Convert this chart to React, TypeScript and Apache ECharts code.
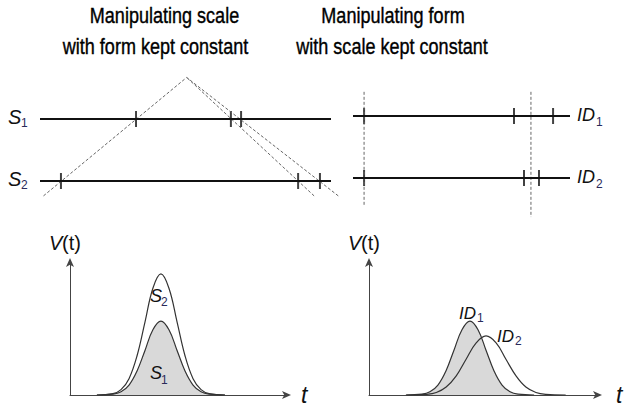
import React, { useEffect, useRef } from "react";
import * as echarts from "echarts";

// ---- top panels: positions of ticks on each scale (panel units 0..100) ----
const S1_TICKS = [33.0, 65.6, 69.1];
const S2_TICKS = [7.2, 88.7, 96.2];
const ID1_TICKS = [5.1, 74.2, 92.2];
const ID2_TICKS = [5.1, 78.8, 85.7];
// dashed guide lines (scale panel): common apex and three lower ends
const SCALE_APEX = [50.4, 1.67];
const SCALE_GUIDE_ENDS = [[1.2, -0.24], [94.2, -0.24], [102.5, -0.24]];
// dashed verticals (form panel): x, top, bottom
const FORM_GUIDES = [[5.1, 1.39, -0.44], [82.0, 1.39, -0.63]];

// ---- bottom panels: curve samples ----
const S_X = [12.4, 19.8, 23.5, 27.2, 30.9, 34.6, 38.2, 41.9, 45.6, 49.3, 53.0, 56.7, 60.4, 64.1, 71.4];
const S1_V = [0, 0.6, 2.4, 7.5, 18.1, 33.7, 49.1, 55.6, 49.1, 33.7, 18.1, 7.5, 2.4, 0.6, 0];
const S2_V = [0, 1.0, 4.0, 12.3, 29.5, 55.2, 80.3, 91, 80.3, 55.2, 29.5, 12.3, 4.0, 1.0, 0];
const ID1_X = [16.1, 23.1, 26.6, 30.1, 33.6, 37.1, 40.6, 44.1, 47.6, 51.1, 54.6, 58.1, 61.6, 65.1, 72.1];
const ID1_V = [0, 0.6, 2.4, 7.5, 18.1, 33.7, 49.1, 55.6, 49.1, 33.7, 18.1, 7.5, 2.4, 0.6, 0];
const ID2_X = [16.3, 25.0, 29.4, 33.7, 38.1, 42.4, 46.8, 51.1, 55.5, 59.8, 64.2, 68.5, 72.9, 77.2, 85.9];
const ID2_V = [0, 0.5, 1.9, 6.0, 14.4, 26.9, 39.2, 44.4, 39.2, 26.9, 14.4, 6.0, 1.9, 0.5, 0];

const TITLES = [
  ["Manipulating scale", "with form kept constant"],
  ["Manipulating form", "with scale kept constant"],
];

const FONT = "'Liberation Sans', Arial, sans-serif";
const INK = "#111";
const SUB = "#2a2a5a";

const zip = (xs: number[], ys: number[]) => xs.map((x, i) => [x, ys[i]]);

function hiddenAxis(gridIndex: number, min: number, max: number) {
  return {
    type: "value", gridIndex, min, max,
    axisLine: { show: false }, axisTick: { show: false },
    axisLabel: { show: false }, splitLine: { show: false },
  };
}
function arrowAxis(gridIndex: number, min: number, max: number) {
  return {
    type: "value", gridIndex, min, max,
    axisLine: {
      show: true, onZero: false, symbol: ["none", "arrow"], symbolSize: [6, 9],
      symbolOffset: [0, 4],
      lineStyle: { color: "#444", width: 1 },
    },
    axisTick: { show: false }, axisLabel: { show: false }, splitLine: { show: false },
  };
}

function scaleLine(xi: number, y: number) {
  return {
    type: "line", xAxisIndex: xi, yAxisIndex: xi, data: [[0, y], [100, y]],
    symbol: "none", lineStyle: { color: INK, width: 2 }, silent: true,
  };
}
function ticks(xi: number, xs: number[], y: number) {
  return {
    type: "scatter", xAxisIndex: xi, yAxisIndex: xi, data: xs.map((x) => [x, y]),
    symbol: "rect", symbolSize: [2, 16], itemStyle: { color: INK }, silent: true,
  };
}
function dashed(xi: number, data: number[][]) {
  return {
    type: "line", xAxisIndex: xi, yAxisIndex: xi, data, symbol: "none",
    lineStyle: { color: "#666", width: 1, type: [3, 2] }, silent: true,
  };
}
function curve(xi: number, data: number[][], fill: boolean) {
  return {
    type: "line", xAxisIndex: xi, yAxisIndex: xi, data, symbol: "none", smooth: 0.4,
    lineStyle: { color: "#333", width: 1.2 },
    areaStyle: fill ? { color: "#d9d9d9", opacity: 1 } : undefined,
    silent: true,
  };
}

function txt(x: number, y: number, text: string, size: number, italic: boolean, color = INK, align = "left", scaleX = 1, weightStroke = 0) {
  return {
    type: "text", x, y, z: 100, silent: true, scaleX,
    style: {
      text, fill: color, align, verticalAlign: "middle",
      font: `${italic ? "italic " : ""}${size}px ${FONT}`,
      stroke: weightStroke ? color : undefined,
      lineWidth: weightStroke,
    },
  };
}

export default function App() {
  const ref = useRef<HTMLDivElement>(null);
  useEffect(() => {
    if (!ref.current) return;
    const chart = echarts.init(ref.current, undefined, { renderer: "svg" });
    const option: any = {
      animation: false,
      backgroundColor: "#fff",
      grid: [
        { left: 40, top: 57, width: 305.55, height: 155 },
        { left: 353, top: 54, width: 217, height: 186 },
        { left: 70, top: 262, width: 217, height: 133 },
        { left: 369, top: 262, width: 229, height: 133 },
      ],
      xAxis: [
        hiddenAxis(0, 0, 105),
        hiddenAxis(1, 0, 100),
        arrowAxis(2, 0, 100),
        arrowAxis(3, 0, 100),
      ],
      yAxis: [
        hiddenAxis(0, -0.5, 2),
        hiddenAxis(1, -1, 2),
        arrowAxis(2, 0, 100),
        arrowAxis(3, 0, 100),
      ],
      series: [
        ...SCALE_GUIDE_ENDS.map((e) => dashed(0, [e, SCALE_APEX])),
        scaleLine(0, 1), scaleLine(0, 0),
        ticks(0, S1_TICKS, 1), ticks(0, S2_TICKS, 0),
        ...FORM_GUIDES.map((g) => dashed(1, [[g[0], g[1]], [g[0], g[2]]])),
        scaleLine(1, 1), scaleLine(1, 0),
        ticks(1, ID1_TICKS, 1), ticks(1, ID2_TICKS, 0),
        curve(2, zip(S_X, S2_V), false),
        curve(2, zip(S_X, S1_V), true),
        curve(3, zip(ID1_X, ID1_V), true),
        curve(3, zip(ID2_X, ID2_V), false),
      ],
      graphic: [
        txt(164.5, 15, TITLES[0][0], 22, false, "#000", "center", 0.82, 0.4),
        txt(155.5, 46, TITLES[0][1], 22, false, "#000", "center", 0.82, 0.4),
        txt(393, 15, TITLES[1][0], 22, false, "#000", "center", 0.82, 0.4),
        txt(392, 46, TITLES[1][1], 22, false, "#000", "center", 0.82, 0.4),
        // top labels
        txt(8, 117, "S", 20, true), txt(21, 123, "1", 12, false, SUB),
        txt(8, 179, "S", 20, true), txt(21, 185, "2", 12, false, SUB),
        txt(577, 115, "ID", 18, true), txt(596, 122, "1", 12, false, SUB),
        txt(577, 177, "ID", 18, true), txt(596, 184, "2", 12, false, SUB),
        // bottom labels
        txt(49, 243, "V", 20, true), txt(62, 243, "(t)", 20, false),
        txt(348, 243, "V", 20, true), txt(361, 243, "(t)", 20, false),
        txt(301, 395, "t", 23, true), txt(616, 395, "t", 23, true),
        txt(150, 296, "S", 18, true), txt(161, 302, "2", 12, false, SUB),
        txt(150, 373, "S", 18, true), txt(161, 380, "1", 12, false, SUB),
        txt(459, 313, "ID", 17, true), txt(477, 318, "1", 12, false, SUB),
        txt(497, 336, "ID", 17, true), txt(515, 341, "2", 12, false, SUB),
      ],
    };
    chart.setOption(option);
    return () => chart.dispose();
  }, []);
  return (
    <div
      ref={ref}
      style={{ position: "absolute", left: 0, top: 0, width: 627, height: 408 }}
    />
  );
}
